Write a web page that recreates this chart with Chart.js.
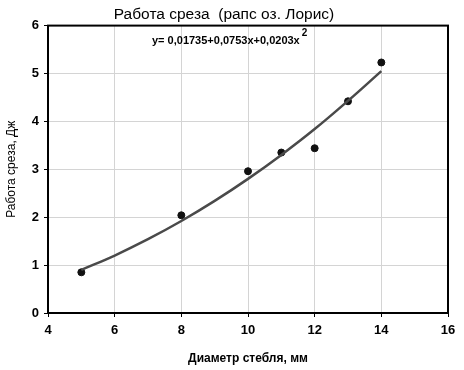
<!DOCTYPE html>
<html>
<head>
<meta charset="utf-8">
<script src="https://cdn.jsdelivr.net/npm/chart.js@4"></script>
<style>
  html, body { margin: 0; padding: 0; background: #fff; }
  #wrap { width: 464px; height: 370px; }
</style>
</head>
<body>
<div id="wrap"><canvas id="chart"></canvas></div>
<script>
// measured points: stem diameter (mm) vs cutting work (J)
const diameters = [5, 8, 10, 11, 12, 13, 14];
const work = [0.85, 2.04, 2.96, 3.35, 3.44, 4.42, 5.23];

// trend line at whole millimetres
const trendX = [5, 6, 7, 8, 9, 10, 11, 12, 13, 14];
const trendY = [0.90, 1.20, 1.54, 1.92, 2.34, 2.80, 3.30, 3.84, 4.43, 5.05];

const titleText = 'Работа среза  (рапс оз. Лорис)';
const equationText = 'y= 0,01735+0,0753x+0,0203x';
const xTitle = 'Диаметр стебля, мм';
const yTitle = 'Работа среза, Дж';

const font = 'Arial, "Liberation Sans", sans-serif';

// frame round the plot area + regression equation
const framePlugin = {
    id: 'frame',
    afterDraw(chart) {
        const { ctx, chartArea: a } = chart;
        ctx.save();
        ctx.strokeStyle = '#000';
        ctx.lineWidth = 2;
        ctx.strokeRect(a.left, a.top, a.right - a.left, a.bottom - a.top);

        ctx.fillStyle = '#000';
        ctx.font = 'bold 11px ' + font;
        ctx.textBaseline = 'alphabetic';
        ctx.textAlign = 'left';
        const x0 = 152;
        ctx.fillText(equationText, x0, 44);
        const w = ctx.measureText(equationText).width;
        ctx.font = 'bold 10px ' + font;
        ctx.fillText('2', x0 + w + 2, 36);
        ctx.restore();
    }
};

const ctx = document.getElementById('chart').getContext('2d');
new Chart(ctx, {
    type: 'scatter',
    data: {
        datasets: [
            {
                label: 'тренд',
                type: 'line',
                data: trendX.map((x, i) => ({ x: x, y: trendY[i] })),
                borderColor: '#4a4a4a',
                borderWidth: 2.5,
                pointRadius: 0,
                tension: 0.4,
                fill: false
            },
            {
                label: 'опыт',
                data: diameters.map((x, i) => ({ x: x, y: work[i] })),
                backgroundColor: '#111',
                borderColor: '#111',
                pointRadius: 3.5
            }
        ]
    },
    options: {
        responsive: true,
        maintainAspectRatio: false,
        animation: false,
        layout: { padding: { left: 0, right: 16, top: 0, bottom: 0 } },
        plugins: {
            legend: { display: false },
            tooltip: { enabled: false },
            title: {
                display: true,
                text: titleText,
                color: '#000',
                font: { family: font, size: 15.5, weight: 'normal' },
                padding: { top: 5, bottom: 2 }
            }
        },
        scales: {
            x: {
                type: 'linear',
                min: 4,
                max: 16,
                ticks: {
                    stepSize: 2,
                    color: '#000',
                    padding: 6,
                    font: { family: font, size: 13, weight: 'bold' }
                },
                grid: { color: '#d4d4d4', tickColor: '#000', tickLength: 4 },
                border: { color: '#000', width: 2 },
                title: {
                    display: true,
                    text: xTitle,
                    color: '#000',
                    font: { family: font, size: 12, weight: 'bold' },
                    padding: { top: 8 }
                },
                afterFit(scale) { scale.height = 57; }
            },
            y: {
                min: 0,
                max: 6,
                ticks: {
                    stepSize: 1,
                    color: '#000',
                    padding: 5,
                    font: { family: font, size: 13, weight: 'bold' }
                },
                grid: { color: '#d4d4d4', tickColor: '#000', tickLength: 4 },
                border: { color: '#000', width: 2 },
                title: {
                    display: true,
                    text: yTitle,
                    color: '#000',
                    font: { family: font, size: 12, weight: 'normal' },
                    padding: { bottom: 4 }
                },
                afterFit(scale) { scale.width = 48; }
            }
        }
    },
    plugins: [framePlugin]
});
</script>
</body>
</html>
